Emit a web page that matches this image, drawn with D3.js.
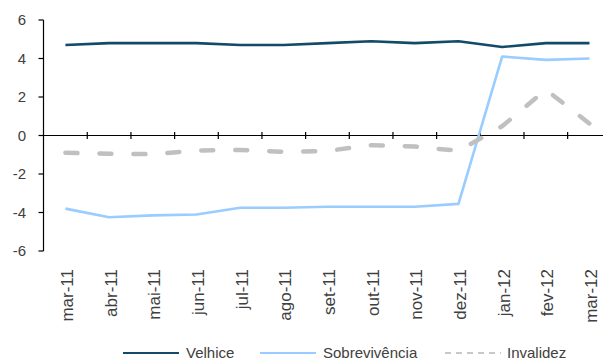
<!DOCTYPE html>
<html>
<head>
<meta charset="utf-8">
<script src="https://cdn.jsdelivr.net/npm/d3@7"></script>
<style>
  body { margin: 0; background: #fff; }
  text { font-family: "Liberation Sans", Arial, sans-serif; fill: #404040; }
</style>
</head>
<body>
<script>
const width = 603, height = 361;

const months = ["mar-11","abr-11","mai-11","jun-11","jul-11","ago-11","set-11","out-11","nov-11","dez-11","jan-12","fev-12","mar-12"];
const velhice = [4.7, 4.8, 4.8, 4.8, 4.7, 4.7, 4.8, 4.9, 4.8, 4.9, 4.6, 4.8, 4.8];
const sobrevivencia = [-3.8, -4.25, -4.15, -4.1, -3.75, -3.75, -3.7, -3.7, -3.7, -3.55, 4.1, 3.93, 4.0];
const invalidez = [-0.9, -0.95, -0.97, -0.78, -0.75, -0.85, -0.8, -0.5, -0.57, -0.8, 0.48, 2.38, 0.62];
const yTicks = [-6, -4, -2, 0, 2, 4, 6];

const series = [
  {name: "Velhice", values: velhice, color: "#124a68", width: 2.6, dash: null},
  {name: "Sobrevivência", values: sobrevivencia, color: "#99ccff", width: 2.6, dash: null},
  {name: "Invalidez", values: invalidez, color: "#c0c0c0", width: 4.5, dash: "12,22"}
];

const svg = d3.select("body").append("svg")
    .attr("width", width)
    .attr("height", height);

const x = d3.scaleBand()
    .domain(months)
    .range([43.6, 43.6 + 13 * 43.67]);

const y = d3.scaleLinear()
    .domain([-6, 6])
    .range([251, 20]);

const cx = d => x(d) + x.bandwidth() / 2;

// y axis
const yAxis = svg.append("g");
yAxis.append("line")
    .attr("x1", 43.5).attr("x2", 43.5)
    .attr("y1", y(6)).attr("y2", y(-6))
    .attr("stroke", "#000").attr("stroke-width", 1.2);
yAxis.selectAll("line.tick")
  .data(yTicks)
  .join("line")
    .attr("class", "tick")
    .attr("x1", 38.5).attr("x2", 43.5)
    .attr("y1", d => y(d)).attr("y2", d => y(d))
    .attr("stroke", "#000").attr("stroke-width", 1.2);
yAxis.selectAll("text")
  .data(yTicks)
  .join("text")
    .attr("x", 26)
    .attr("y", d => y(d))
    .attr("dy", "0.35em")
    .attr("text-anchor", "end")
    .attr("font-size", 15)
    .text(d => d);

// x axis at zero
const xAxis = svg.append("g");
xAxis.append("line")
    .attr("x1", 43.5).attr("x2", width)
    .attr("y1", y(0)).attr("y2", y(0))
    .attr("stroke", "#000").attr("stroke-width", 1.2);
xAxis.selectAll("line.tick")
  .data(months.slice(1).concat(["end"]))
  .join("line")
    .attr("class", "tick")
    .attr("x1", (d, i) => x(months[0]) + (i + 1) * x.step())
    .attr("x2", (d, i) => x(months[0]) + (i + 1) * x.step())
    .attr("y1", y(0) - 3.5).attr("y2", y(0) + 3.5)
    .attr("stroke", "#000").attr("stroke-width", 1.2);
xAxis.selectAll("text")
  .data(months)
  .join("text")
    .attr("transform", d => `translate(${cx(d) + 1.5},269) rotate(-90)`)
    .attr("dy", "0.35em")
    .attr("text-anchor", "end")
    .attr("font-size", 17)
    .text(d => d);

// lines
const line = d3.line()
    .x((d, i) => cx(months[i]))
    .y(d => y(d));

svg.append("g")
  .selectAll("path")
  .data(series)
  .join("path")
    .attr("d", d => line(d.values))
    .attr("fill", "none")
    .attr("stroke", d => d.color)
    .attr("stroke-width", d => d.width)
    .attr("stroke-dasharray", d => d.dash)
    .attr("stroke-linecap", d => d.dash ? "round" : "butt")
    .attr("stroke-linejoin", "round");

// legend
const legendX = [123, 260, 445];
const legend = svg.append("g")
  .selectAll("g")
  .data(series)
  .join("g")
    .attr("transform", (d, i) => `translate(${legendX[i]},353)`);

legend.append("line")
    .attr("x1", 0).attr("x2", 56)
    .attr("stroke", d => d.dash ? "#c8c8c8" : d.color)
    .attr("stroke-width", (d, i) => i === 0 ? 2.2 : 1.8)
    .attr("stroke-dasharray", d => d.dash ? "6,5" : null);

legend.append("text")
    .attr("x", (d, i) => i === 2 ? 62 : 63)
    .attr("dy", "0.35em")
    .attr("font-size", 15)
    .text(d => d.name);
</script>
</body>
</html>
